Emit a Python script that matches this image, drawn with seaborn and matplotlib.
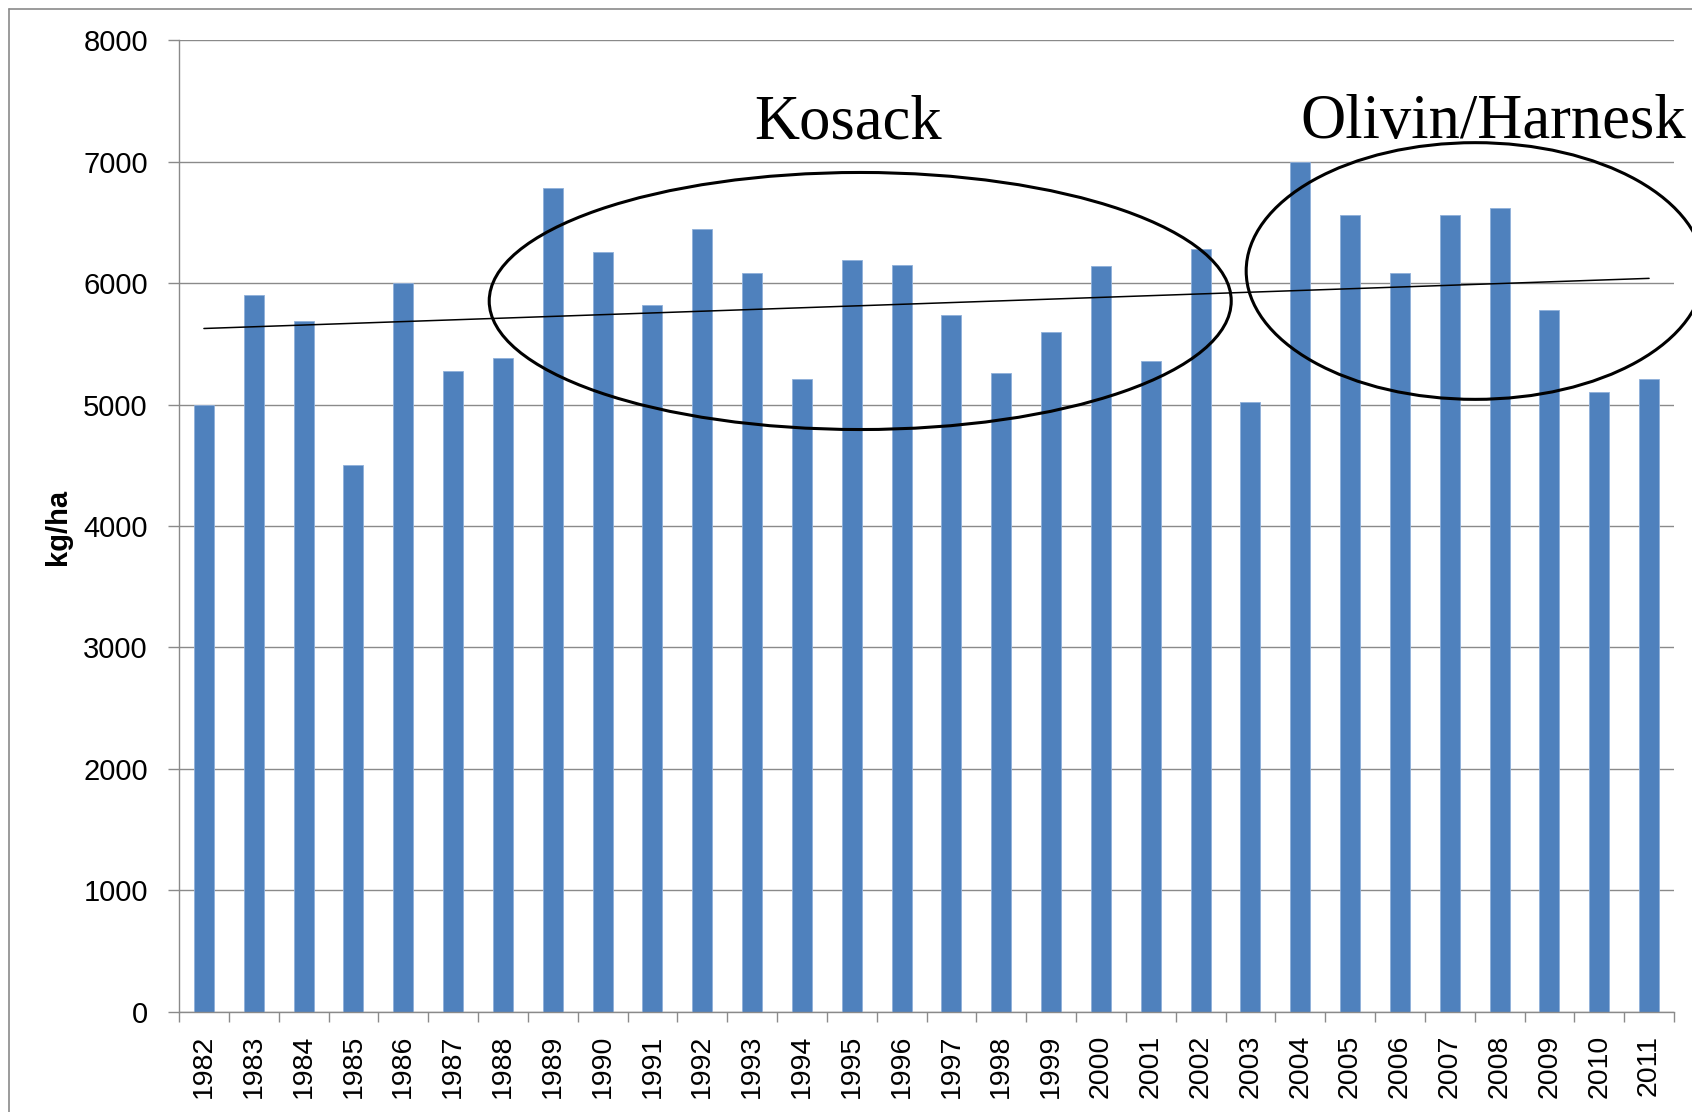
import matplotlib
matplotlib.use("Agg")
import matplotlib.pyplot as plt
from matplotlib.patches import Ellipse
from matplotlib.lines import Line2D
import numpy as np
import pandas as pd
import seaborn as sns

# ---- data ----
years = [str(y) for y in range(1982, 2012)]
yields = [5000, 5900, 5690, 4500, 6000, 5280, 5380, 6780, 6260, 5820,
          6450, 6080, 5210, 6190, 6150, 5735, 5260, 5600, 6140, 5360,
          6280, 5020, 7000, 6560, 6080, 6560, 6620, 5775, 5100, 5210]
y_ticks = [0, 1000, 2000, 3000, 4000, 5000, 6000, 7000, 8000]
y_label = "kg/ha"
group_labels = ["Kosack", "Olivin/Harnesk"]

df = pd.DataFrame({"year": years, "yield": yields})

sns.set_theme(style="white")
plt.rcParams["font.family"] = ["Liberation Sans", "DejaVu Sans"]

W, H = 1692, 1112
fig = plt.figure(figsize=(W / 100, H / 100), dpi=100)
ax = fig.add_axes([179 / W, 1 - 1011.7 / H, (1674 - 179) / W, (1011.7 - 40.3) / H])

BLUE = "#4F81BD"
GRAY = "#8A8A8A"

sns.barplot(data=df, x="year", y="yield", color=BLUE, saturation=1,
            width=0.4, edgecolor="#8FB0DA", linewidth=0.6, ax=ax)

ax.set_xlim(-0.5, len(years) - 0.5)
ax.set_ylim(0, 8000)
ax.set_yticks(y_ticks)
ax.set_yticklabels([str(t) for t in y_ticks], fontsize=21, color="black")
ax.set_xlabel("")
ax.set_ylabel("")

ax.set_xticks(range(len(years)))
ax.set_xticklabels(years, rotation=90, fontsize=20.5, color="black")
ax.set_xticks(np.arange(-0.5, len(years)), minor=True)
ax.tick_params(axis="x", which="major", length=0, pad=16.5)
ax.tick_params(axis="x", which="minor", length=7.2, width=1, color=GRAY, bottom=True)
ax.tick_params(axis="y", which="major", length=8, width=1, color=GRAY, pad=14.4, left=True)

ax.yaxis.grid(True, color=GRAY, linewidth=1.0)
ax.xaxis.grid(False)
ax.set_axisbelow(True)
for s in ["top", "right"]:
    ax.spines[s].set_visible(False)
for s in ["left", "bottom"]:
    ax.spines[s].set_color(GRAY)
    ax.spines[s].set_linewidth(1.0)

# linear trend line
idx = np.arange(len(yields))
coef = np.polyfit(idx, yields, 1)
ax.plot(idx[[0, -1]], np.polyval(coef, idx[[0, -1]]), color="black", lw=1.1, zorder=4)

# ellipses
ax.add_patch(Ellipse((13.17, 5853), 14.89, 2117, fill=False, ec="black", lw=2.2,
                     zorder=5, clip_on=False))
ax.add_patch(Ellipse((25.51, 6100), 9.19, 2114, fill=False, ec="black", lw=2.2,
                     zorder=5, clip_on=False))

# group labels
ax.text(12.93, 7195, group_labels[0], fontsize=45, family=["Liberation Serif"],
        ha="center", va="baseline", color="black", clip_on=False)
ax.text(25.87, 7195, group_labels[1], fontsize=45, family=["Liberation Serif"],
        ha="center", va="baseline", color="black", clip_on=False)

# y label
fig.text(58 / W, 1 - 527 / H, y_label, rotation=90, fontsize=21, fontweight="bold",
         ha="center", va="center", color="black")

# chart area border (left and top visible)
fig.add_artist(Line2D([9 / W, 9 / W], [0, 1 - 9 / H], color=GRAY, lw=1.2))
fig.add_artist(Line2D([9 / W, 1], [1 - 9 / H, 1 - 9 / H], color=GRAY, lw=1.2))

fig.savefig("out.png", dpi=100)
